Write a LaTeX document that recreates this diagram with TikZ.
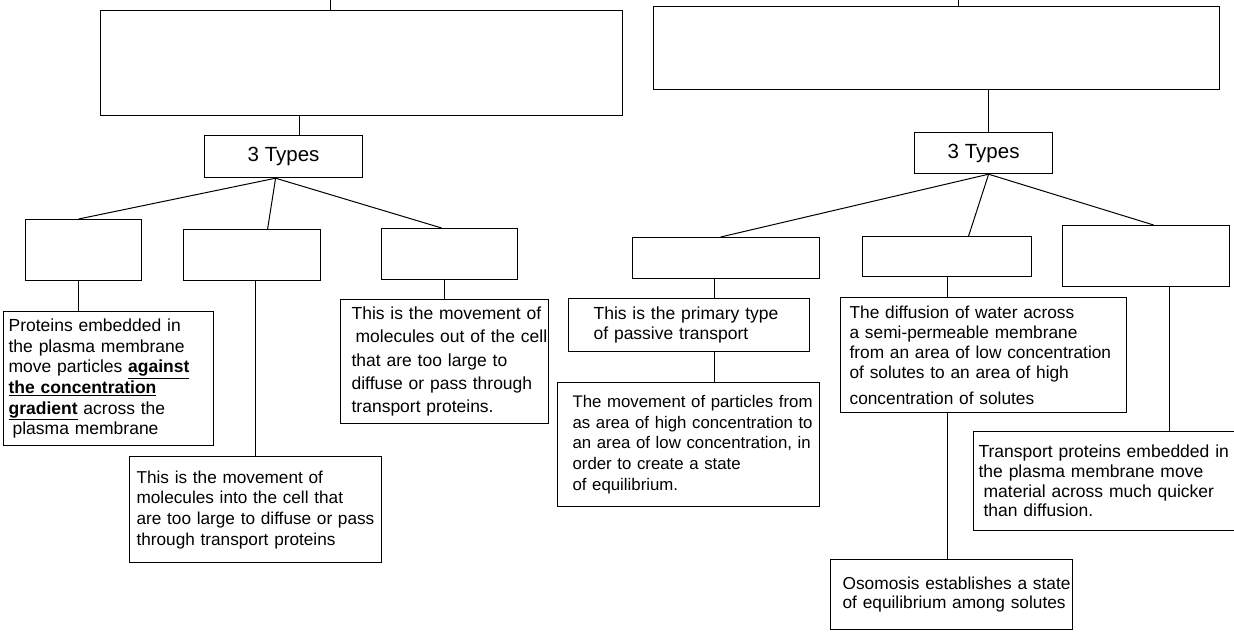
\documentclass[tikz,border=0pt]{standalone}
\usepackage{fontspec}
\setmainfont{Liberation Sans}
\begin{document}
\begin{tikzpicture}[x=1pt,y=-1pt,
  box/.style={draw=black, line width=1.2pt, inner sep=0pt, anchor=north west},
  desc/.style={align=left, font=\fontsize{17.5}{20.7}\selectfont},
  types/.style={align=center, font=\fontsize{20.5}{24}\selectfont},
  conn/.style={line width=1pt}]
\useasboundingbox (0,0) rectangle (1234,634);
\clip (0,0) rectangle (1234,634);
\fill[white] (0,0) rectangle (1234,634);

% ---------- left tree ----------
\node[box, minimum width=522pt, minimum height=105pt] (a) at (100,10) {};
\node[box, types, minimum width=158pt, minimum height=42pt] (t1) at (204,135) {3 Types};
\node[box, minimum width=116pt, minimum height=61pt] (l1) at (25,219) {};
\node[box, minimum width=137pt, minimum height=51pt] (l2) at (183,229) {};
\node[box, minimum width=136pt, minimum height=51pt] (l3) at (381,228) {};
\node[box, desc, text width=210pt, minimum height=134pt] (l1d) at (3,311)
  {\leftskip=5pt Proteins embedded in\\ the plasma membrane\\ move particles \underline{\textbf{against}}\\ \underline{\textbf{the concentration}}\\ \underline{\textbf{gradient}} across the\\ \hspace*{4pt}plasma membrane\par};
\node[box, desc, text width=252pt, minimum height=106pt, font=\fontsize{17.2}{20.7}\selectfont] (l2d) at (129,456)
  {\leftskip=7pt This is the movement of\\ molecules into the cell that\\ are too large to diffuse or pass\\ through transport proteins\par};
\node[box, desc, text width=208pt, minimum height=124pt, font=\fontsize{17.5}{23.4}\selectfont] (l3d) at (340,299)
  {\leftskip=11pt This is the movement of\\ \hspace*{4pt}molecules out of the cell\\ that are too large to\\ diffuse or pass through\\ transport proteins.\par};

% ---------- right tree ----------
\node[box, minimum width=566pt, minimum height=83pt] (b) at (653,6) {};
\node[box, types, minimum width=138pt, minimum height=41pt] (t2) at (914,132) {3 Types};
\node[box, minimum width=187pt, minimum height=41pt] (r1) at (632,237) {};
\node[box, minimum width=169pt, minimum height=40pt] (r2) at (862,236) {};
\node[box, minimum width=167pt, minimum height=61pt] (r3) at (1062,225) {};
\node[box, desc, text width=241pt, minimum height=53pt] (r1a) at (568,298)
  {\leftskip=25pt This is the primary type\\ of passive transport\par};
\node[box, desc, text width=262pt, minimum height=124pt, font=\fontsize{16.8}{20.8}\selectfont] (r1b) at (557,382)
  {\leftskip=15pt The movement of particles from\\ as area of high concentration to\\ an area of low concentration, in\\ order to create a state\\ of equilibrium.\par};
\node[box, desc, text width=286pt, minimum height=115pt, font=\fontsize{17.3}{20}\selectfont] (r2a) at (840,297)
  {\leftskip=9pt The diffusion of water across\\ a semi-permeable membrane\\ from an area of low concentration\\ of solutes to an area of high\\[6pt] concentration of solutes\par};
\node[box, desc, text width=242pt, minimum height=70pt, font=\fontsize{17.3}{18.5}\selectfont] (r2b) at (830,559)
  {\leftskip=12pt Osomosis establishes a state\\ of equilibrium among solutes\par};
\node[box, desc, text width=270pt, minimum height=99pt, font=\fontsize{17.5}{19.7}\selectfont] (r3a) at (973,431)
  {\leftskip=5pt Transport proteins embedded in\\ the plasma membrane move\\ \hspace*{5pt}material across much quicker\\ \hspace*{5pt}than diffusion.\par};

% ---------- junction points ----------
\coordinate (atop) at (330,0);
\coordinate (btop) at (958,0);
\coordinate (t1in) at ([xshift=16pt]t1.north);
\coordinate (t1out) at ([xshift=-8pt]t1.south);
\coordinate (l1in) at ([xshift=-5pt]l1.north);
\coordinate (l2in) at ([xshift=15.5pt]l2.north);
\coordinate (l3in) at ([xshift=-8pt]l3.north);
\coordinate (l1out) at ([xshift=-5pt]l1.south);
\coordinate (l2out) at ([xshift=3.5pt]l2.south);
\coordinate (l3out) at ([xshift=-5pt]l3.south);
\coordinate (t2in) at ([xshift=5pt]t2.north);
\coordinate (t2out) at ([xshift=5pt]t2.south);
\coordinate (r1in) at ([xshift=-5.5pt]r1.north);
\coordinate (r2in) at ([xshift=21.5pt]r2.north);
\coordinate (r3in) at ([xshift=7.5pt]r3.north);
\coordinate (r1out) at ([xshift=-11.5pt]r1.south);
\coordinate (r3out) at ([xshift=23.5pt]r3.south);

% ---------- connectors ----------
\draw[conn] (atop) -- (atop |- a.north);
\draw[conn] (t1in |- a.south) -- (t1in);
\draw[conn] (t1out) -- (l1in);
\draw[conn] (t1out) -- (l2in);
\draw[conn] (t1out) -- (l3in);
\draw[conn] (l1out) -- (l1out |- l1d.north);
\draw[conn] (l2out) -- (l2out |- l2d.north);
\draw[conn] (l3out) -- (l3out |- l3d.north);

\draw[conn] (btop) -- (btop |- b.north);
\draw[conn] (t2in |- b.south) -- (t2in);
\draw[conn] (t2out) -- (r1in);
\draw[conn] (t2out) -- (r2in);
\draw[conn] (t2out) -- (r3in);
\draw[conn] (r1out) -- (r1out |- r1a.north);
\draw[conn] (r1out |- r1a.south) -- (r1out |- r1b.north);
\draw[conn] (r2.south) -- (r2.south |- r2a.north);
\draw[conn] (r2.south |- r2a.south) -- (r2.south |- r2b.north);
\draw[conn] (r3out) -- (r3out |- r3a.north);
\end{tikzpicture}
\end{document}
